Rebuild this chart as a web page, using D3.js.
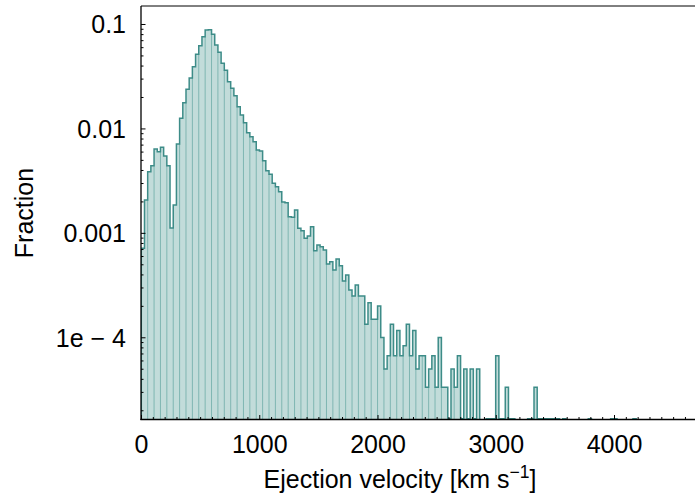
<!DOCTYPE html>
<html>
<head>
<meta charset="utf-8">
<script src="https://cdn.jsdelivr.net/npm/d3@7"></script>
<style>
  body { margin: 0; background: #fff; }
  svg text { font-family: "Liberation Sans", Arial, sans-serif; fill: #000; }
</style>
</head>
<body>
<div id="chart-area"></div>
<script>
const margin = { LEFT: 141, TOP: 6, RIGHT: 0, BOTTOM: 77.5 };
const width = 4700 * 0.11825;          // axis runs past the right edge of the picture
const height = 497 - margin.TOP - margin.BOTTOM;

// histogram bins (km/s)
const binStart = 2.5;
const binWidth = 27;

// fraction per bin (0 = empty bin)
const fraction = [
  7.11e-4, 2.06e-3, 3.85e-3, 4.40e-3, 6.35e-3, 5.99e-3, 6.60e-3, 5.45e-3, 4.40e-3, 1.11e-3,
  1.85e-3, 7.09e-3, 0.0125, 0.0176, 0.0237, 0.0304, 0.0390, 0.0513, 0.0620, 0.0756,
  0.0876, 0.0882, 0.0797, 0.0630, 0.0536, 0.0420, 0.0360, 0.0280, 0.0242, 0.0206,
  0.0161, 0.01345, 0.01135, 0.0091, 0.00833, 0.00746, 0.00622, 0.00608, 0.00491, 0.00394,
  0.00364, 0.00298, 0.00277, 0.00248, 0.001975, 0.001944, 0.001428, 0.001409, 0.001656, 0.001106,
  0.001049, 8.87e-4, 9.33e-4, 1.146e-3, 6.75e-4, 7.65e-4, 7.37e-4, 6.85e-4, 5.03e-4, 5.29e-4,
  4.41e-4, 5.62e-4, 4.85e-4, 3.46e-4, 3.95e-4, 2.84e-4, 2.49e-4, 3.17e-4, 2.49e-4, 2.49e-4,
  1.33e-4, 2.14e-4, 1.49e-4, 1.49e-4, 1.99e-4, 9.96e-5, 4.98e-5, 6.64e-5, 1.33e-4, 6.64e-5,
  1.16e-4, 6.64e-5, 8.3e-5, 1.33e-4, 6.64e-5, 1.16e-4, 4.98e-5, 6.64e-5, 6.64e-5, 3.32e-5,
  4.98e-5, 6.64e-5, 3.32e-5, 9.96e-5, 3.32e-5, 3.32e-5, 1.66e-5, 4.98e-5, 3.32e-5, 6.64e-5,
  1.66e-5, 4.98e-5, 1.66e-5, 4.98e-5, 1.66e-5, 4.98e-5, 0, 0, 1.66e-5, 1.66e-5,
  1.66e-5, 6.64e-5, 1.66e-5, 1.66e-5, 3.32e-5, 1.66e-5, 1.66e-5, 0, 0, 0,
  0, 1.66e-5, 1.66e-5, 3.32e-5, 1.66e-5, 1.66e-5, 1.66e-5, 1.66e-5, 1.66e-5, 1.66e-5,
  1.66e-5, 0, 1.66e-5, 0, 0, 0, 0, 0, 0, 0,
  1.66e-5, 0, 0, 0, 0, 0, 0, 1.66e-5, 1.66e-5, 0,
  0, 0, 0, 0, 1.66e-5, 0
];

const xMajor = [0, 1000, 2000, 3000, 4000];
const yMajor = [1e-1, 1e-2, 1e-3, 1e-4];
const yLabels = ["0.1", "0.01", "0.001", "1e \u2212 4"];

const svg = d3.select("#chart-area").append("svg")
  .attr("width", 695)
  .attr("height", 497);

const g = svg.append("g")
  .attr("transform", `translate(${margin.LEFT}, ${margin.TOP})`);

// Scales
const x = d3.scaleLinear()
  .domain([0, 4700])
  .range([0, width]);
const y = d3.scaleLog()
  .domain([1.632e-5, 0.1487])
  .range([height, 0]);

const yv = f => f > 0 ? y(f) : height + 6;
const edges = fraction.map((f, i) => binStart + i * binWidth);
const lastEdge = binStart + fraction.length * binWidth;

svg.append("defs").append("clipPath")
  .attr("id", "plot-clip")
  .append("rect")
  .attr("width", width)
  .attr("height", height);

const hist = g.append("g").attr("clip-path", "url(#plot-clip)");

// filled bars
const pts = fraction.map((f, i) => ({ e: edges[i], f }));
pts.push({ e: lastEdge, f: fraction[fraction.length - 1] });

const area = d3.area()
  .curve(d3.curveStepAfter)
  .x(d => x(d.e))
  .y0(height)
  .y1(d => yv(d.f));

hist.append("path")
  .datum(pts)
  .attr("fill", "#c2dcda")
  .attr("d", area);

// bar edges
const inner = fraction.map((f, i) => ({ i, top: Math.min(f, fraction[i - 1] || 0) }))
  .filter(d => d.i > 0 && d.i % 2 === 0 && d.top > 0);

hist.selectAll("line.edge")
  .data(inner)
  .enter().append("line")
  .attr("class", "edge")
  .attr("x1", d => x(edges[d.i]))
  .attr("x2", d => x(edges[d.i]))
  .attr("y1", height)
  .attr("y2", d => y(d.top))
  .attr("stroke", "#7fb6b2")
  .attr("stroke-width", 1);

// step outline
const stepPts = [{ e: edges[0], f: 0 }].concat(pts, [{ e: lastEdge, f: 0 }]);
const line = d3.line()
  .curve(d3.curveStepAfter)
  .x(d => x(d.e))
  .y(d => yv(d.f));

hist.append("path")
  .datum(stepPts)
  .attr("fill", "none")
  .attr("stroke", "#3d8c88")
  .attr("stroke-width", 1.5)
  .attr("d", line);

// X Axis
const xAxisCall = d3.axisBottom(x)
  .tickValues(xMajor)
  .tickSize(-4.5)
  .tickPadding(15)
  .tickFormat(d3.format("d"));
const xAxis = g.append("g")
  .attr("transform", `translate(0, ${height})`)
  .call(xAxisCall);

const xMinorCall = d3.axisBottom(x)
  .tickValues(d3.range(0, 4701, 100).filter(v => !xMajor.includes(v)))
  .tickSize(-2.5)
  .tickFormat("");
const xMinor = g.append("g")
  .attr("transform", `translate(0, ${height})`)
  .call(xMinorCall);

// Y Axis
const yAxisCall = d3.axisLeft(y)
  .tickValues(yMajor)
  .tickSize(-4.5)
  .tickPadding(15)
  .tickFormat((d, i) => yLabels[i]);
const yAxis = g.append("g").call(yAxisCall);

const yMinorVals = [];
[-5, -4, -3, -2].forEach(p => {
  for (let k = 2; k <= 9; k++) yMinorVals.push(k * Math.pow(10, p));
});
const yMinorCall = d3.axisLeft(y)
  .tickValues(yMinorVals.filter(v => v > 1.632e-5 && v < 0.1487))
  .tickSize(-2.5)
  .tickFormat("");
const yMinor = g.append("g").call(yMinorCall);

[xAxis, xMinor, yAxis, yMinor].forEach(a => {
  a.select(".domain").remove();
  a.selectAll(".tick line").attr("stroke", "#000").attr("stroke-width", 1);
  a.selectAll("text").attr("font-size", "25px").attr("font-family", null);
});
xAxis.selectAll("text").attr("dy", "0.72em");
yAxis.selectAll("text").attr("dy", "0.36em");

// spines
g.append("line")
  .attr("x1", 0).attr("x2", width + 2)
  .attr("y1", 0).attr("y2", 0)
  .attr("stroke", "#000").attr("stroke-width", 1);
g.append("line")
  .attr("x1", 0).attr("x2", 0)
  .attr("y1", 0).attr("y2", height + 0.6)
  .attr("stroke", "#000").attr("stroke-width", 1.3);
g.append("line")
  .attr("x1", -0.6).attr("x2", width + 2)
  .attr("y1", height).attr("y2", height)
  .attr("stroke", "#000").attr("stroke-width", 1.3);

// Labels
const xLabel = svg.append("text")
  .attr("x", 400)
  .attr("y", 487.5)
  .attr("font-size", "25px")
  .attr("text-anchor", "middle");
xLabel.append("tspan").text("Ejection velocity [km s");
xLabel.append("tspan").attr("font-size", "17.5px").attr("dy", -10).text("\u22121");
xLabel.append("tspan").attr("dy", 10).text("]");

svg.append("text")
  .attr("transform", "translate(33, 213) rotate(-90)")
  .attr("font-size", "25px")
  .attr("text-anchor", "middle")
  .text("Fraction");
</script>
</body>
</html>
